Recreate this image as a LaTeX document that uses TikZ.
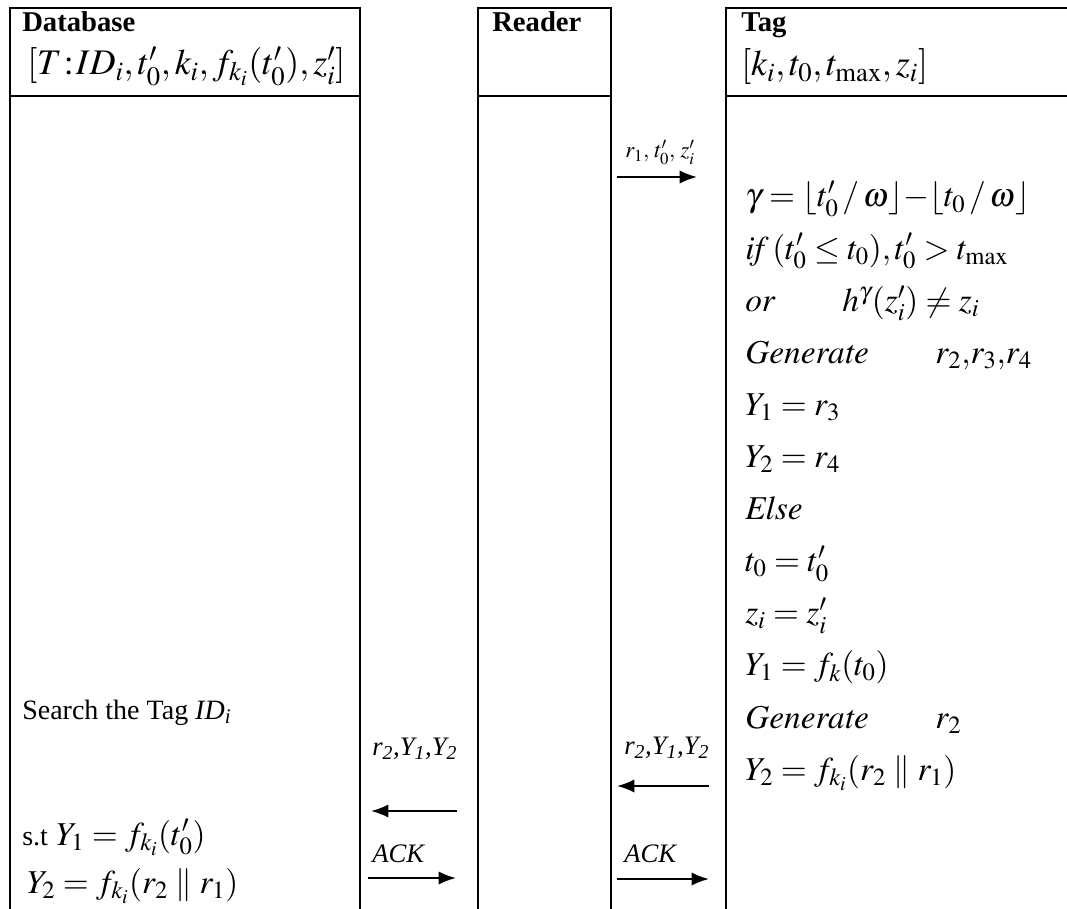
\documentclass[tikz,border=0pt]{standalone}
\usepackage{amsmath}
\usepackage{mathptmx}
\usepackage{fontspec}
\setmainfont{Liberation Serif}
\usetikzlibrary{arrows.meta, positioning}

\tikzset{
    head/.style={anchor=base west, inner sep=0pt, font=\fontsize{21.5}{25}\selectfont\bfseries},
    keys/.style={anchor=base west, inner sep=0pt, font=\fontsize{27}{32}\selectfont},
    eqn/.style={anchor=base west, inner sep=0pt, font=\fontsize{25}{30}\selectfont},
    txt/.style={anchor=base west, inner sep=0pt, font=\fontsize{21}{25}\selectfont},
    msg/.style={anchor=base west, inner sep=0pt, font=\fontsize{20}{24}\selectfont\itshape},
    msgsmall/.style={anchor=base west, inner sep=0pt, font=\fontsize{17}{20}\selectfont},
    column/.style={line width=1.1pt},
    msgarrow/.style={->, line width=1.6pt}
}

\begin{document}
\begin{tikzpicture}[x=0.75pt, y=-0.75pt, >={Latex[length=13pt, width=10pt]}]
    % page
    \clip (0,0) rectangle (1067,909);

    % Cột: Database, Reader, Tag
    \draw[column] (10,930) -- (10,8) -- (360,8) -- (360,930) (10,96) -- (360,96);
    \draw[column] (478,930) -- (478,8) -- (611,8) -- (611,930) (478,96) -- (611,96);
    \draw[column] (726,930) -- (726,8) -- (1080,8) -- (1080,930) (726,96) -- (1080,96);

    % Tiêu đề
    \node[head] (dbname) at (22,32) {Database};
    \node[keys] (dbkeys) at (27,75) {$[T\mkern1mu{:}\mkern1mu ID_i, t'_0, k_i, f_{k_i}(t'_0), z'_i]$};
    \node[head] (rdname) at (492,32) {Reader};
    \node[head] (tgname) at (741,32) {Tag};
    \node[keys] (tgkeys) at (741,76) {$[k_i, t_0, t_{\max}, z_i]$};

    % Tag: các bước tính
    \foreach \row [count=\k from 0] in {
        {\gamma = \lfloor t'_0 \mkern2mu/\mkern2mu \omega \rfloor {-} \lfloor t_0 \mkern2mu/\mkern2mu \omega \rfloor},
        {\mathit{if}\,(t'_0 \le t_0), t'_0 > t_{\max}},
        {\mathit{or} \qquad h^{\gamma}(z'_i) \ne z_i},
        {\mathit{Generate} \qquad r_2,\! r_3,\! r_4},
        {Y_1 = r_3},
        {Y_2 = r_4},
        {\mathit{Else}},
        {t_0 = t'_0},
        {z_i = z'_i},
        {Y_1 = f_k(t_0)},
        {\mathit{Generate} \qquad r_2},
        {Y_2 = f_{k_i}(r_2 \parallel r_1)}}
        \node[eqn] (tag\k) at (745,207+52.1*\k) {$\row$};

    % Database: tìm kiếm
    \node[txt] (search) at (22,719) {Search the Tag \textit{ID\textsubscript{i}}};
    \node[eqn] (dbY1) at (22,845) {{\fontsize{21}{25}\selectfont s.t} $Y_1 = f_{k_i}(t'_0)$};
    \node[eqn] (dbY2) at (27,893) {$Y_2 = f_{k_i}(r_2 \parallel r_1)$};

    % Thông điệp
    \coordinate (m1s) at (617,177);
    \coordinate (m1e) at (697,177);
    \draw[msgarrow] (m1s) -- (m1e);
    \node[msgsmall] (m1) at (625,158) {$r_1,\, t'_0,\, z'_i$};

    \coordinate (m2s) at (709,786);
    \coordinate (m2e) at (617,786);
    \draw[msgarrow] (m2s) -- (m2e);
    \node[msg] (m2) at (624,754) {r\textsubscript{2},Y\textsubscript{1},Y\textsubscript{2}};

    \coordinate (m3s) at (457,811);
    \coordinate (m3e) at (371,811);
    \draw[msgarrow] (m3s) -- (m3e);
    \node[msg] (m3) at (372,755) {r\textsubscript{2},Y\textsubscript{1},Y\textsubscript{2}};

    \coordinate (m4s) at (617,879);
    \coordinate (m4e) at (709,879);
    \draw[msgarrow] (m4s) -- (m4e);
    \node[msg] (m4) at (624,862) {ACK};

    \coordinate (m5s) at (368,878);
    \coordinate (m5e) at (456,878);
    \draw[msgarrow] (m5s) -- (m5e);
    \node[msg] (m5) at (372,862) {ACK};
\end{tikzpicture}
\end{document}
